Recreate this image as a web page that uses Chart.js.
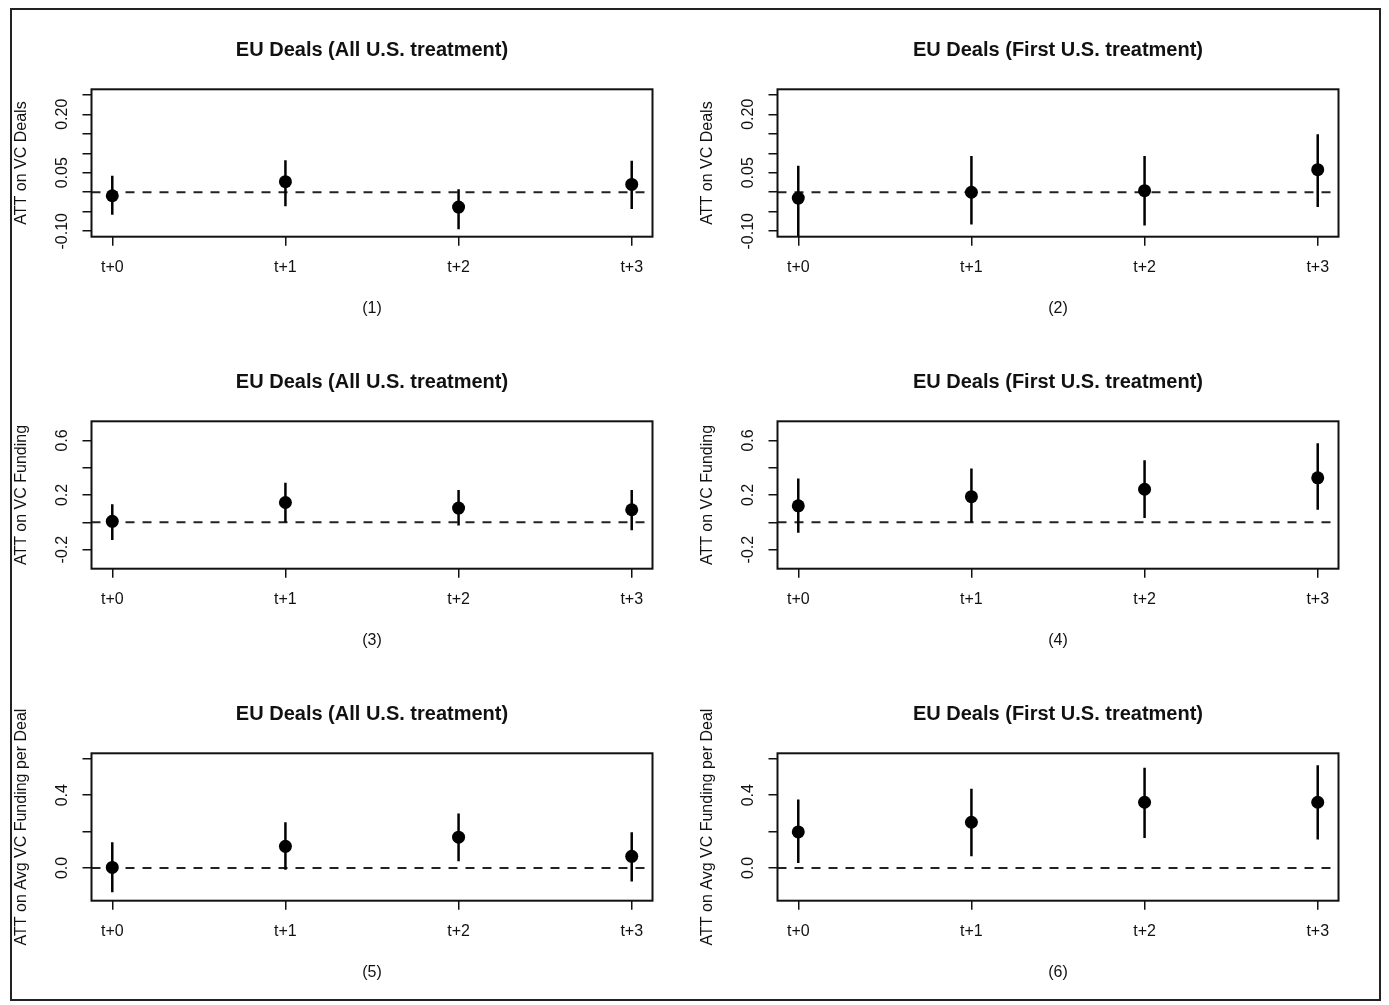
<!DOCTYPE html>
<html>
<head>
<meta charset="utf-8">
<script src="https://cdn.jsdelivr.net/npm/chart.js@4.4.1/dist/chart.umd.min.js"></script>
<style>
  body { margin: 0; background: #fff; }
  #page { position: relative; width: 1389px; height: 1005px; overflow: hidden; background: #fff; }
  #frame { position: absolute; left: 10px; top: 8px; width: 1371px; height: 993px; border: 2px solid #222; box-sizing: border-box; }
  #page canvas { position: absolute; }
</style>
</head>
<body>
<div id="page"><div id="frame"></div></div>
<script>
const periods = ['t+0', 't+1', 't+2', 't+3'];

const titleAll = 'EU Deals (All U.S. treatment)';
const titleFirst = 'EU Deals (First U.S. treatment)';

// ATT estimates with lower / upper confidence bounds
const dealsAllEst = [-0.009, 0.027, -0.038, 0.020];
const dealsAllLo = [-0.058, -0.036, -0.095, -0.043];
const dealsAllHi = [0.042, 0.082, 0.008, 0.081];

const dealsFirstEst = [-0.015, 0.000, 0.004, 0.058];
const dealsFirstLo = [-0.120, -0.083, -0.085, -0.038];
const dealsFirstHi = [0.068, 0.093, 0.093, 0.149];

const fundingAllEst = [0.007, 0.145, 0.104, 0.092];
const fundingAllLo = [-0.130, 0.000, -0.024, -0.058];
const fundingAllHi = [0.133, 0.290, 0.237, 0.237];

const fundingFirstEst = [0.121, 0.188, 0.242, 0.326];
const fundingFirstLo = [-0.077, 0.000, 0.032, 0.092];
const fundingFirstHi = [0.320, 0.394, 0.455, 0.580];

const avgAllEst = [0.003, 0.119, 0.169, 0.064];
const avgAllLo = [-0.134, -0.010, 0.037, -0.074];
const avgAllHi = [0.141, 0.251, 0.299, 0.196];

const avgFirstEst = [0.198, 0.251, 0.361, 0.361];
const avgFirstLo = [0.027, 0.064, 0.165, 0.156];
const avgFirstHi = [0.376, 0.435, 0.551, 0.564];

// y limits and ticks for each outcome (empty label = tick mark only)
const dealsLim = [-0.10, 0.25];
const dealsTicks = [-0.10, -0.05, 0, 0.05, 0.10, 0.15, 0.20, 0.25];
const dealsTickLabels = ['-0.10', '', '', '0.05', '', '', '0.20', ''];

const fundingLim = [-0.3, 0.7];
const fundingTicks = [-0.2, 0, 0.2, 0.4, 0.6];
const fundingTickLabels = ['-0.2', '', '0.2', '', '0.6'];

const avgLim = [-0.15, 0.6];
const avgTicks = [0, 0.2, 0.4, 0.6];
const avgTickLabels = ['0.0', '', '0.4', ''];

const panels = [
  { title: titleAll, tag: '(1)', yTitle: 'ATT on VC Deals', est: dealsAllEst, lo: dealsAllLo, hi: dealsAllHi, lim: dealsLim, ticks: dealsTicks, labels: dealsTickLabels },
  { title: titleFirst, tag: '(2)', yTitle: 'ATT on VC Deals', est: dealsFirstEst, lo: dealsFirstLo, hi: dealsFirstHi, lim: dealsLim, ticks: dealsTicks, labels: dealsTickLabels },
  { title: titleAll, tag: '(3)', yTitle: 'ATT on VC Funding', est: fundingAllEst, lo: fundingAllLo, hi: fundingAllHi, lim: fundingLim, ticks: fundingTicks, labels: fundingTickLabels },
  { title: titleFirst, tag: '(4)', yTitle: 'ATT on VC Funding', est: fundingFirstEst, lo: fundingFirstLo, hi: fundingFirstHi, lim: fundingLim, ticks: fundingTicks, labels: fundingTickLabels },
  { title: titleAll, tag: '(5)', yTitle: 'ATT on Avg VC Funding per Deal', est: avgAllEst, lo: avgAllLo, hi: avgAllHi, lim: avgLim, ticks: avgTicks, labels: avgTickLabels },
  { title: titleFirst, tag: '(6)', yTitle: 'ATT on Avg VC Funding per Deal', est: avgFirstEst, lo: avgFirstLo, hi: avgFirstHi, lim: avgLim, ticks: avgTicks, labels: avgTickLabels }
];

const fontFamily = '"Liberation Sans", Arial, Helvetica, sans-serif';
const ink = '#111';
Chart.defaults.font.family = fontFamily;
Chart.defaults.color = ink;

// base R pads each axis range by 4%
function extend(lim) {
  const pad = (lim[1] - lim[0]) * 0.04;
  return [lim[0] - pad, lim[1] + pad];
}
const xLim = extend([1, periods.length]);

// Box around the plot region and y tick labels drawn parallel to the axis
const rAxesPlugin = {
  id: 'rAxes',
  afterDraw(chart, args, opts) {
    const { ctx, chartArea: a } = chart;
    const y = chart.scales.y;
    ctx.save();
    ctx.strokeStyle = ink;
    ctx.lineWidth = 2;
    ctx.strokeRect(a.left, a.top, a.right - a.left, a.bottom - a.top);

    ctx.fillStyle = ink;
    ctx.font = '16px ' + fontFamily;
    ctx.textAlign = 'center';
    ctx.textBaseline = 'middle';
    opts.labels.forEach((lab, i) => {
      if (!lab) return;
      ctx.save();
      ctx.translate(a.left - 29, y.getPixelForValue(opts.values[i]));
      ctx.rotate(-Math.PI / 2);
      ctx.fillText(lab, 0, 0);
      ctx.restore();
    });
    ctx.restore();
  }
};

const page = document.getElementById('page');

panels.forEach((p, k) => {
  const col = k % 2;
  const row = Math.floor(k / 2);
  const canvas = document.createElement('canvas');
  canvas.width = 685;
  canvas.height = 332;
  canvas.style.left = (col * 686) + 'px';
  canvas.style.top = (4 + row * 332) + 'px';
  page.appendChild(canvas);

  const yLim = extend(p.lim);

  // vertical confidence interval segments, one per period
  const intervals = p.lo.map((lo, i) => ({
    type: 'line',
    data: [{ x: i + 1, y: lo }, { x: i + 1, y: p.hi[i] }],
    borderColor: '#000',
    borderWidth: 2.5,
    pointRadius: 0,
    order: 1
  }));

  new Chart(canvas, {
    type: 'scatter',
    data: {
      datasets: [
        {
          type: 'scatter',
          data: p.est.map((v, i) => ({ x: i + 1, y: v })),
          pointRadius: 6.5,
          pointBackgroundColor: '#000',
          pointBorderWidth: 0,
          order: 0
        },
        ...intervals,
        {
          type: 'line',
          data: [{ x: xLim[0], y: 0 }, { x: xLim[1], y: 0 }],
          borderColor: '#222',
          borderWidth: 2,
          borderDash: [9, 8],
          pointRadius: 0,
          order: 2
        }
      ]
    },
    options: {
      responsive: false,
      animation: false,
      layout: { padding: { left: 0, right: 32.5, top: 0, bottom: 0 } },
      plugins: {
        legend: { display: false },
        tooltip: { enabled: false },
        title: {
          display: true,
          text: p.title,
          fullSize: false,
          color: ink,
          font: { size: 20, weight: 'bold' },
          padding: { top: 34, bottom: 27.3 }
        },
        rAxes: { values: p.ticks, labels: p.labels }
      },
      scales: {
        x: {
          type: 'linear',
          min: xLim[0],
          max: xLim[1],
          afterBuildTicks: s => { s.ticks = periods.map((_, i) => ({ value: i + 1 })); },
          afterFit: s => { s.height = 99.3; },
          ticks: {
            callback: (v, i) => periods[i],
            color: ink,
            font: { size: 16 },
            padding: 12,
            autoSkip: false,
            maxRotation: 0
          },
          grid: { drawOnChartArea: false, tickLength: 9, color: ink, lineWidth: 1.5 },
          border: { display: false },
          title: {
            display: true,
            text: p.tag,
            color: ink,
            font: { size: 16 },
            padding: { top: 0, bottom: 17.4 }
          }
        },
        y: {
          type: 'linear',
          min: yLim[0],
          max: yLim[1],
          afterBuildTicks: s => { s.ticks = p.ticks.map(v => ({ value: v })); },
          afterFit: s => { s.width = 91.5; },
          ticks: { display: false },
          grid: { drawOnChartArea: false, tickLength: 9, color: ink, lineWidth: 1.5 },
          border: { display: false },
          title: {
            display: true,
            text: p.yTitle,
            color: ink,
            font: { size: 16 },
            padding: { top: 12.4, bottom: 0 }
          }
        }
      }
    },
    plugins: [rAxesPlugin]
  });
});
</script>
</body>
</html>
